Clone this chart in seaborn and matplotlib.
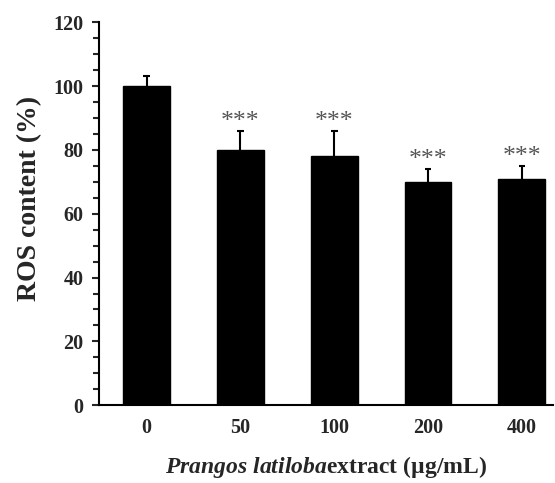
import matplotlib
matplotlib.use("Agg")
import matplotlib.pyplot as plt
from matplotlib.ticker import MultipleLocator
import seaborn as sns
import pandas as pd
import numpy as np

categories = ["0", "50", "100", "200", "400"]
ros = [100, 80, 78, 70, 71]
err = [3, 6, 8, 4, 4]
signif = ["", "***", "***", "***", "***"]

sns.set_style("white")
plt.rcParams["font.family"] = ["Liberation Serif", "DejaVu Serif"]
plt.rcParams["mathtext.fontset"] = "custom"
plt.rcParams["mathtext.rm"] = "Liberation Serif:bold"
plt.rcParams["mathtext.it"] = "Liberation Serif:italic:bold"
plt.rcParams["mathtext.bf"] = "Liberation Serif:bold"

df = pd.DataFrame({"conc": categories, "ros": ros})

fig = plt.figure(figsize=(5.55, 4.83), dpi=100)
ax = fig.add_axes([0.178, 0.161, 0.818, 0.793])

sns.barplot(data=df, x="conc", y="ros", color="black", width=0.5,
            saturation=1, errorbar=None, ax=ax, edgecolor="black")

x = np.arange(len(categories))
tops = np.array(ros) + np.array(err)
ax.vlines(x, ros, tops, color="black", linewidth=1.5)
ax.hlines(tops, x - 0.035, x + 0.035, color="black", linewidth=1.5)

for xi, t, s in zip(x, tops, signif):
    if s:
        ax.text(xi, t - 0.75, s, ha="center", va="bottom",
                fontsize=18.5, color="#555555")

ax.set_ylim(0, 120)
ax.set_xlim(-0.51, 4.33)
ax.yaxis.set_major_locator(MultipleLocator(20))
ax.yaxis.set_minor_locator(MultipleLocator(5))
ax.tick_params(axis="y", which="major", direction="out", length=5, width=1.5,
               left=True, labelsize=14.5, pad=6)
ax.tick_params(axis="y", which="minor", direction="out", length=4, width=1.5,
               left=True)
ax.tick_params(axis="x", which="both", bottom=False, labelsize=14.5, pad=6)
for lab in ax.get_xticklabels() + ax.get_yticklabels():
    lab.set_fontweight("bold")

for sp in ["top", "right"]:
    ax.spines[sp].set_visible(False)
for sp in ["left", "bottom"]:
    ax.spines[sp].set_linewidth(1.5)
    ax.spines[sp].set_color("black")

ax.set_ylabel("ROS content (%)", fontsize=20, fontweight="bold")
ax.yaxis.set_label_coords(-0.125, 0.539)
ax.set_xlabel(r"$\mathit{Prangos\ latiloba}$" + "extract (µg/mL)",
              fontsize=17, fontweight="bold", labelpad=11)

fig.savefig("out.png", dpi=100)
